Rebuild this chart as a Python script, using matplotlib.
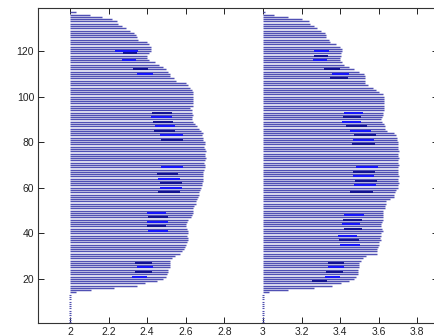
import matplotlib
matplotlib.use('Agg')
import matplotlib.pyplot as plt

# filas (eje y) y longitud de cada linea horizontal
filas = list(range(14, 138))

largo_izq = [0.03, 0.11, 0.23, 0.345, 0.39, 0.45, 0.48, 0.50, 0.505, 0.51,
             0.51, 0.52, 0.52, 0.52, 0.52, 0.53, 0.545, 0.57, 0.58, 0.59,
             0.595, 0.60, 0.605, 0.61, 0.61, 0.605, 0.61, 0.61, 0.605, 0.60,
             0.60, 0.605, 0.61, 0.625, 0.63, 0.635, 0.635, 0.64, 0.645, 0.655,
             0.655, 0.66, 0.665, 0.67, 0.67, 0.675, 0.68, 0.685, 0.685, 0.69,
             0.69, 0.69, 0.69, 0.69, 0.695, 0.70, 0.70, 0.695, 0.70, 0.705,
             0.70, 0.70, 0.705, 0.70, 0.695, 0.70, 0.70, 0.69, 0.69, 0.685,
             0.69, 0.68, 0.67, 0.66, 0.65, 0.64, 0.63, 0.63, 0.635, 0.63,
             0.63, 0.62, 0.635, 0.635, 0.635, 0.64, 0.635, 0.635, 0.635, 0.63,
             0.62, 0.61, 0.60, 0.55, 0.54, 0.52, 0.52, 0.51, 0.50, 0.48,
             0.46, 0.44, 0.41, 0.40, 0.40, 0.41, 0.42, 0.42, 0.42, 0.41,
             0.40, 0.35, 0.345, 0.34, 0.33, 0.31, 0.29, 0.27, 0.25, 0.245,
             0.22, 0.165, 0.105, 0.03]

largo_der = [0.033, 0.13, 0.266, 0.36, 0.405, 0.447, 0.47, 0.48, 0.49, 0.49,
             0.49, 0.50, 0.50, 0.50, 0.508, 0.52, 0.534, 0.59, 0.59, 0.59,
             0.595, 0.60, 0.60, 0.61, 0.607, 0.61, 0.61, 0.62, 0.615, 0.61,
             0.61, 0.615, 0.62, 0.62, 0.62, 0.62, 0.62, 0.63, 0.63, 0.637,
             0.637, 0.66, 0.68, 0.68, 0.685, 0.69, 0.70, 0.70, 0.705, 0.70,
             0.70, 0.705, 0.70, 0.70, 0.70, 0.70, 0.705, 0.70, 0.70, 0.705,
             0.70, 0.70, 0.705, 0.70, 0.70, 0.70, 0.70, 0.695, 0.695, 0.69,
             0.68, 0.645, 0.635, 0.63, 0.625, 0.615, 0.61, 0.618, 0.62, 0.62,
             0.625, 0.625, 0.625, 0.625, 0.625, 0.625, 0.625, 0.62, 0.60, 0.585,
             0.57, 0.545, 0.53, 0.53, 0.53, 0.53, 0.525, 0.50, 0.47, 0.447,
             0.42, 0.41, 0.40, 0.40, 0.405, 0.405, 0.41, 0.41, 0.40, 0.378,
             0.35, 0.344, 0.325, 0.325, 0.32, 0.30, 0.28, 0.266, 0.245, 0.24,
             0.204, 0.13, 0.059, 0.01]

inicio_izq = 2.0
inicio_der = 3.0

# filas inferiores con solo un punto
filas_puntos = list(range(1, 14))

# tramos resaltados: fila, desde, hasta
resalte_izq_y = [120, 119, 116, 112, 110, 93, 91, 89, 87, 85, 83, 81,
                 69, 66, 64, 62, 60, 58, 49, 47, 45, 43, 41, 27, 25, 23, 21]
resalte_izq_a = [2.233, 2.276, 2.27, 2.325, 2.345, 2.423, 2.418, 2.431, 2.44, 2.435,
                 2.466, 2.47, 2.47, 2.449, 2.458, 2.466, 2.466, 2.458,
                 2.397, 2.406, 2.397, 2.397, 2.406, 2.337, 2.345, 2.337, 2.32]
resalte_izq_b = [2.354, 2.345, 2.34, 2.406, 2.43, 2.527, 2.527, 2.535, 2.544, 2.544,
                 2.585, 2.585, 2.587, 2.561, 2.57, 2.578, 2.578, 2.57,
                 2.496, 2.509, 2.509, 2.50, 2.509, 2.423, 2.432, 2.423, 2.397]

resalte_der_y = [120, 118, 116, 112, 110, 108, 93, 91, 89, 87, 85, 83, 81, 79,
                 69, 67, 65, 63, 61, 58, 48, 46, 44, 42, 39, 37, 35,
                 27, 25, 23, 21, 19]
resalte_der_a = [3.266, 3.266, 3.26, 3.318, 3.356, 3.35, 3.42, 3.415, 3.41, 3.43,
                 3.45, 3.473, 3.465, 3.46, 3.48, 3.465, 3.465, 3.475, 3.47, 3.45,
                 3.418, 3.413, 3.408, 3.418, 3.387, 3.395, 3.40,
                 3.335, 3.338, 3.326, 3.32, 3.253]
resalte_der_b = [3.344, 3.335, 3.33, 3.40, 3.447, 3.44, 3.52, 3.51, 3.51, 3.54,
                 3.56, 3.585, 3.575, 3.58, 3.595, 3.58, 3.575, 3.59, 3.585, 3.57,
                 3.525, 3.515, 3.505, 3.515, 3.487, 3.498, 3.505,
                 3.418, 3.42, 3.413, 3.40, 3.33]

x_ticks = [2, 2.2, 2.4, 2.6, 2.8, 3, 3.2, 3.4, 3.6, 3.8]
x_labels = ['2', '2.2', '2.4', '2.6', '2.8', '3', '3.2', '3.4', '3.6', '3.8']
y_ticks = [20, 40, 60, 80, 100, 120]


def graficar():
    plt.rcParams['font.family'] = ['Liberation Sans', 'DejaVu Sans']
    fig = plt.figure(figsize=(4.34, 3.36), dpi=100)
    ax = fig.add_axes([0.0883, 0.0387, 0.92, 0.938])

    color_linea = '#5050b4'
    fin_izq = [inicio_izq + v for v in largo_izq]
    fin_der = [inicio_der + v for v in largo_der]
    ax.hlines(filas, inicio_izq, fin_izq, colors=color_linea, linewidth=1.05)
    ax.hlines(filas, inicio_der, fin_der, colors=color_linea, linewidth=1.05)

    # puntos de la parte baja
    ax.hlines(filas_puntos, inicio_izq - 0.004, inicio_izq + 0.005,
              colors='#5050b0', linewidth=0.8)
    ax.hlines(filas_puntos, inicio_der - 0.004, inicio_der + 0.005,
              colors='#5050b0', linewidth=0.8)

    # tramos resaltados, alternando tono
    tonos = ['#1414ff', '#101090']
    for i, (y, a, b) in enumerate(zip(resalte_izq_y, resalte_izq_a, resalte_izq_b)):
        ax.plot([a, b], [y, y], color=tonos[i % 2], linewidth=1.4,
                solid_capstyle='butt')
    for i, (y, a, b) in enumerate(zip(resalte_der_y, resalte_der_a, resalte_der_b)):
        ax.plot([a, b], [y, y], color=tonos[i % 2], linewidth=1.4,
                solid_capstyle='butt')

    ax.set_xlim(1.836, 3.905)
    ax.set_ylim(0.6, 139)
    ax.set_xticks(x_ticks)
    ax.set_xticklabels(x_labels)
    ax.set_yticks(y_ticks)
    ax.tick_params(direction='in', length=4, width=0.7, labelsize=7.5,
                   top=True, right=True, pad=3, colors='#222222')
    for s in ax.spines.values():
        s.set_linewidth(0.8)
        s.set_color('#333333')

    fig.savefig('out.png', dpi=100)


if __name__ == '__main__':
    graficar()
